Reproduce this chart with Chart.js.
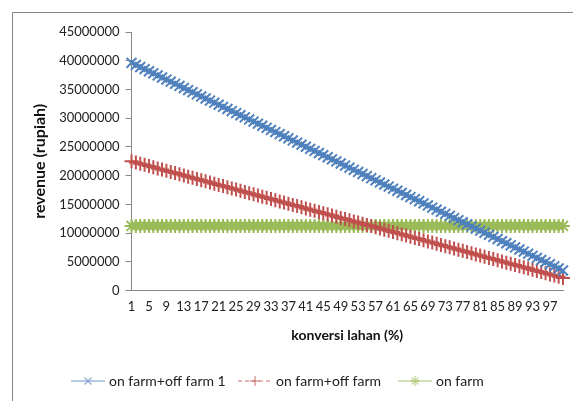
<!DOCTYPE html>
<html>
<head>
<meta charset="utf-8">
<script src="https://cdn.jsdelivr.net/npm/chart.js@4.4.1/dist/chart.umd.min.js"></script>
<style>
    html, body { margin: 0; padding: 0; background: #fff; }
    canvas { display: block; }
</style>
</head>
<body>
<canvas id="revenueChart" width="573" height="401"></canvas>
<script>
// konversi lahan (%) 1..100
const konversi = [
    1, 2, 3, 4, 5, 6, 7, 8, 9, 10, 11, 12, 13, 14, 15, 16, 17, 18, 19, 20,
    21, 22, 23, 24, 25, 26, 27, 28, 29, 30, 31, 32, 33, 34, 35, 36, 37, 38, 39, 40,
    41, 42, 43, 44, 45, 46, 47, 48, 49, 50, 51, 52, 53, 54, 55, 56, 57, 58, 59, 60,
    61, 62, 63, 64, 65, 66, 67, 68, 69, 70, 71, 72, 73, 74, 75, 76, 77, 78, 79, 80,
    81, 82, 83, 84, 85, 86, 87, 88, 89, 90, 91, 92, 93, 94, 95, 96, 97, 98, 99, 100
];

// revenue (rupiah) per scenario
const onOffFarm1 = [
    39635000, 39270000, 38905000, 38540000, 38175000, 37810000, 37445000, 37080000, 36715000, 36350000,
    35985000, 35620000, 35255000, 34890000, 34525000, 34160000, 33795000, 33430000, 33065000, 32700000,
    32335000, 31970000, 31605000, 31240000, 30875000, 30510000, 30145000, 29780000, 29415000, 29050000,
    28685000, 28320000, 27955000, 27590000, 27225000, 26860000, 26495000, 26130000, 25765000, 25400000,
    25035000, 24670000, 24305000, 23940000, 23575000, 23210000, 22845000, 22480000, 22115000, 21750000,
    21385000, 21020000, 20655000, 20290000, 19925000, 19560000, 19195000, 18830000, 18465000, 18100000,
    17735000, 17370000, 17005000, 16640000, 16275000, 15910000, 15545000, 15180000, 14815000, 14450000,
    14085000, 13720000, 13355000, 12990000, 12625000, 12260000, 11895000, 11530000, 11165000, 10800000,
    10435000, 10070000, 9705000, 9340000, 8975000, 8610000, 8245000, 7880000, 7515000, 7150000,
    6785000, 6420000, 6055000, 5690000, 5325000, 4960000, 4595000, 4230000, 3865000, 3500000
];

const onOffFarm = [
    22495000, 22290000, 22085000, 21880000, 21675000, 21470000, 21265000, 21060000, 20855000, 20650000,
    20445000, 20240000, 20035000, 19830000, 19625000, 19420000, 19215000, 19010000, 18805000, 18600000,
    18395000, 18190000, 17985000, 17780000, 17575000, 17370000, 17165000, 16960000, 16755000, 16550000,
    16345000, 16140000, 15935000, 15730000, 15525000, 15320000, 15115000, 14910000, 14705000, 14500000,
    14295000, 14090000, 13885000, 13680000, 13475000, 13270000, 13065000, 12860000, 12655000, 12450000,
    12245000, 12040000, 11835000, 11630000, 11425000, 11220000, 11015000, 10810000, 10605000, 10400000,
    10195000, 9990000, 9785000, 9580000, 9375000, 9170000, 8965000, 8760000, 8555000, 8350000,
    8145000, 7940000, 7735000, 7530000, 7325000, 7120000, 6915000, 6710000, 6505000, 6300000,
    6095000, 5890000, 5685000, 5480000, 5275000, 5070000, 4865000, 4660000, 4455000, 4250000,
    4045000, 3840000, 3635000, 3430000, 3225000, 3020000, 2815000, 2610000, 2405000, 2200000
];

const onFarm = [
    11250000, 11250000, 11250000, 11250000, 11250000, 11250000, 11250000, 11250000, 11250000, 11250000,
    11250000, 11250000, 11250000, 11250000, 11250000, 11250000, 11250000, 11250000, 11250000, 11250000,
    11250000, 11250000, 11250000, 11250000, 11250000, 11250000, 11250000, 11250000, 11250000, 11250000,
    11250000, 11250000, 11250000, 11250000, 11250000, 11250000, 11250000, 11250000, 11250000, 11250000,
    11250000, 11250000, 11250000, 11250000, 11250000, 11250000, 11250000, 11250000, 11250000, 11250000,
    11250000, 11250000, 11250000, 11250000, 11250000, 11250000, 11250000, 11250000, 11250000, 11250000,
    11250000, 11250000, 11250000, 11250000, 11250000, 11250000, 11250000, 11250000, 11250000, 11250000,
    11250000, 11250000, 11250000, 11250000, 11250000, 11250000, 11250000, 11250000, 11250000, 11250000,
    11250000, 11250000, 11250000, 11250000, 11250000, 11250000, 11250000, 11250000, 11250000, 11250000,
    11250000, 11250000, 11250000, 11250000, 11250000, 11250000, 11250000, 11250000, 11250000, 11250000
];

const yTicks = [0, 5000000, 10000000, 15000000, 20000000, 25000000, 30000000, 35000000, 40000000, 45000000];

const FONT = "Lato, 'Open Sans', sans-serif";

const seriesStyle = [
    { label: "on farm+off farm 1", data: onOffFarm1, color: "#4F81BD", point: "crossRot", dash: [] },
    { label: "on farm+off farm", data: onOffFarm, color: "#C0504D", point: "cross", dash: [4, 3] },
    { label: "on farm", data: onFarm, color: "#9BBB59", point: "star", dash: [] }
];

// Grey outer frame of the chart object
const outerFrame = {
    id: "outerFrame",
    beforeDraw(chart) {
        const ctx = chart.ctx;
        ctx.save();
        ctx.strokeStyle = "#868686";
        ctx.lineWidth = 1;
        ctx.beginPath();
        ctx.moveTo(12.5, chart.height);
        ctx.lineTo(12.5, 12.5);
        ctx.lineTo(chart.width, 12.5);
        ctx.stroke();
        ctx.restore();
    }
};

// Legend drawn on the canvas so each entry shows line + marker
const lineLegend = {
    id: "lineLegend",
    afterDraw(chart) {
        const ctx = chart.ctx;
        const y = 381;
        const items = [
            { x: 71, ds: seriesStyle[0] },
            { x: 238, ds: seriesStyle[1] },
            { x: 398, ds: seriesStyle[2] }
        ];
        ctx.save();
        items.forEach(it => {
            ctx.strokeStyle = it.ds.color;
            ctx.globalAlpha = 0.55;
            ctx.lineWidth = 1.5;
            ctx.setLineDash(it.ds.dash);
            ctx.beginPath();
            ctx.moveTo(it.x, y);
            ctx.lineTo(it.x + 34, y);
            ctx.stroke();
            ctx.setLineDash([]);
            Chart.helpers.drawPoint(ctx, {
                pointStyle: it.ds.point, radius: 5, borderWidth: 1
            }, it.x + 17, y);
            ctx.globalAlpha = 1;
            ctx.fillStyle = "#222";
            ctx.font = "14px " + FONT;
            ctx.textBaseline = "middle";
            ctx.textAlign = "left";
            ctx.fillText(it.ds.label, it.x + 38, y);
        });
        ctx.restore();
    }
};

const ctx = document.getElementById("revenueChart").getContext("2d");
new Chart(ctx, {
    type: "line",
    data: {
        labels: konversi,
        datasets: seriesStyle.map(s => ({
            label: s.label,
            data: s.data,
            borderColor: s.color,
            backgroundColor: s.color,
            borderWidth: 2,
            borderDash: s.dash,
            pointStyle: s.point,
            pointRadius: 7,
            pointBorderWidth: 2,
            pointBorderColor: s.color,
            tension: 0
        }))
    },
    options: {
        responsive: false,
        animation: false,
        layout: { padding: { left: 26, top: 32, right: 10, bottom: 53 } },
        plugins: {
            legend: { display: false },
            tooltip: { enabled: false }
        },
        scales: {
            x: {
                grid: { display: false, drawOnChartArea: false, tickLength: 6, color: "#868686" },
                border: { color: "#868686" },
                ticks: {
                    autoSkip: false,
                    maxRotation: 0,
                    minRotation: 0,
                    padding: 2,
                    color: "#222",
                    font: { family: FONT, size: 13 },
                    callback: function (val, i) {
                        return i % 4 === 0 ? this.getLabelForValue(val) : "";
                    }
                },
                title: {
                    display: true,
                    text: "konversi lahan (%)",
                    color: "#111",
                    font: { family: FONT, size: 14, weight: "bold" },
                    padding: { top: 11 }
                }
            },
            y: {
                min: 0,
                max: 45000000,
                afterBuildTicks: axis => { axis.ticks = yTicks.map(v => ({ value: v })); },
                grid: { drawOnChartArea: false, tickLength: 6, color: "#868686" },
                border: { color: "#868686" },
                ticks: {
                    color: "#222",
                    padding: 6,
                    font: { family: FONT, size: 13 },
                    callback: v => String(v)
                },
                title: {
                    display: true,
                    text: "revenue (rupiah)",
                    color: "#111",
                    font: { family: FONT, size: 16, weight: "bold" },
                    padding: { bottom: 4 }
                }
            }
        }
    },
    plugins: [outerFrame, lineLegend]
});
</script>
</body>
</html>
